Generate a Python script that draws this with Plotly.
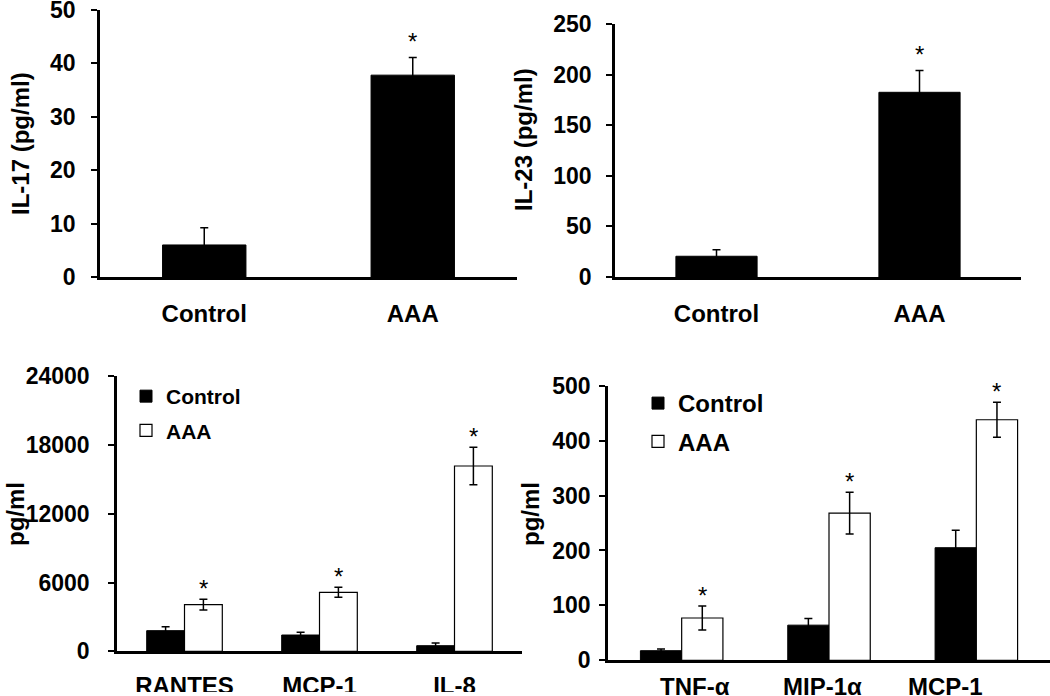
import plotly.graph_objects as go

FONT = "Liberation Sans, Arial, sans-serif"

# ---------------- data ----------------
# Panel A: IL-17
a_cats = ["Control", "AAA"]
a_vals = [6.0, 37.8]
a_err = [3.2, 3.3]
a_sig = [False, True]
a_ticks = [0, 10, 20, 30, 40, 50]

# Panel B: IL-23
b_cats = ["Control", "AAA"]
b_vals = [20.5, 182.5]
b_err = [6.5, 21.5]
b_sig = [False, True]
b_ticks = [0, 50, 100, 150, 200, 250]

# Panel C: chemokines (large)
c_cats = ["RANTES", "MCP-1", "IL-8"]
c_ctrl = [1800, 1420, 490]
c_ctrl_err = [350, 240, 230]
c_aaa = [4070, 5150, 16170]
c_aaa_err = [470, 440, 1630]
c_sig = [True, True, True]
c_ticks = [0, 6000, 12000, 18000, 24000]

# Panel D: cytokines
d_cats = ["TNF-α", "MIP-1α", "MCP-1"]
d_ctrl = [17.5, 64, 205]
d_ctrl_err = [3, 12, 32]
d_aaa = [77, 268, 438]
d_aaa_err = [22, 38, 32]
d_sig = [True, True, True]
d_ticks = [0, 100, 200, 300, 400, 500]

series_names = ["Control", "AAA"]

# ---------------- figure ----------------
W, H = 1050, 696
BARGAP = 0.44

def px_x(v):
    return v / W

def px_y(v):
    return (H - v) / H

fig = go.Figure()

err_style = dict(type="data", color="black", thickness=1.5, width=4, visible=True)

# A
fig.add_trace(go.Bar(x=a_cats, y=a_vals, error_y=dict(array=a_err, **err_style),
                     marker=dict(color="black", line=dict(color="black", width=1)),
                     width=0.4, offset=-0.2, showlegend=False,
                     xaxis="x", yaxis="y"))
# B
fig.add_trace(go.Bar(x=b_cats, y=b_vals, error_y=dict(array=b_err, **err_style),
                     marker=dict(color="black", line=dict(color="black", width=1)),
                     width=0.4, offset=-0.2, showlegend=False,
                     xaxis="x2", yaxis="y2"))
# C
fig.add_trace(go.Bar(x=c_cats, y=c_ctrl, name=series_names[0],
                     error_y=dict(array=c_ctrl_err, **err_style),
                     marker=dict(color="black", line=dict(color="black", width=1)),
                     xaxis="x3", yaxis="y3", legend="legend", legendgroup="c1"))
fig.add_trace(go.Bar(x=c_cats, y=c_aaa, name=series_names[1],
                     error_y=dict(array=c_aaa_err, **err_style),
                     marker=dict(color="white", line=dict(color="black", width=1.2)),
                     xaxis="x3", yaxis="y3", legend="legend", legendgroup="c2"))
# D
fig.add_trace(go.Bar(x=d_cats, y=d_ctrl, name=series_names[0],
                     error_y=dict(array=d_ctrl_err, **err_style),
                     marker=dict(color="black", line=dict(color="black", width=1)),
                     xaxis="x4", yaxis="y4", legend="legend2", legendgroup="d1"))
fig.add_trace(go.Bar(x=d_cats, y=d_aaa, name=series_names[1],
                     error_y=dict(array=d_aaa_err, **err_style),
                     marker=dict(color="white", line=dict(color="black", width=1.2)),
                     xaxis="x4", yaxis="y4", legend="legend2", legendgroup="d2"))

tickfont = dict(family=FONT, size=23, color="black", weight="bold")

def xax(domain, anchor, showlabels=True, standoff=0):
    return dict(domain=domain, anchor=anchor, type="category", automargin=False,
                showline=True, linecolor="black", linewidth=2.5,
                ticks="", showgrid=False, zeroline=False, ticklabeloverflow="allow",
                showticklabels=showlabels, tickfont=dict(family=FONT, size=24, color="black", weight="bold"),
                ticklabelstandoff=standoff, fixedrange=True)

def yax(domain, anchor, rng, tickvals, standoff):
    return dict(domain=domain, anchor=anchor, range=rng, tickvals=tickvals, automargin=False,
                tickformat="d", ticklabeloverflow="allow",
                showline=True, linecolor="black", linewidth=2.5,
                ticks="outside", ticklen=6, tickwidth=2, tickcolor="black",
                showgrid=False, zeroline=False, tickfont=tickfont,
                ticklabelstandoff=standoff, fixedrange=True)

fig.update_layout(
    width=W, height=H,
    margin=dict(l=0, r=0, t=0, b=0, autoexpand=False),
    paper_bgcolor="white", plot_bgcolor="white",
    barmode="group", bargap=BARGAP, bargroupgap=0,
    font=dict(family=FONT, color="black"),
    xaxis=xax([px_x(100), px_x(517)], "y", standoff=13),
    yaxis=yax([px_y(277), px_y(10)], "x", [0, 50], a_ticks, 11),
    xaxis2=xax([px_x(615), px_x(1021)], "y2", standoff=13),
    yaxis2=yax([px_y(277), px_y(24)], "x2", [0, 250], b_ticks, 10),
    xaxis3=xax([px_x(117), px_x(522)], "y3", standoff=11),
    yaxis3=yax([px_y(651.3), px_y(376.3)], "x3", [0, 24000], c_ticks, 14),
    xaxis4=xax([px_x(608), px_x(1050)], "y4", showlabels=False),
    yaxis4=yax([px_y(660.3), px_y(385.7)], "x4", [0, 500], d_ticks, 4),
    legend=dict(x=px_x(126), y=px_y(376), xanchor="left", yanchor="top",
                bgcolor="rgba(0,0,0,0)", tracegroupgap=4,
                font=dict(family=FONT, size=21, color="black", weight="bold")),
    legend2=dict(x=px_x(638), y=px_y(381), xanchor="left", yanchor="top",
                 bgcolor="rgba(0,0,0,0)", tracegroupgap=4,
                 font=dict(family=FONT, size=24, color="black", weight="bold")),
)

annotations = []

# y-axis titles
titles = [("IL-17 (pg/ml)", 21, 144), ("IL-23 (pg/ml)", 523, 140),
          ("pg/ml", 15, 514), ("pg/ml", 530, 514)]
for txt, xc, yc in titles:
    annotations.append(dict(text=txt, xref="paper", yref="paper", x=px_x(xc), y=px_y(yc),
                            xanchor="center", yanchor="middle", textangle=-90, showarrow=False,
                            font=dict(family=FONT, size=24, color="black", weight="bold")))

star_font = dict(family="Liberation Sans, Arial", size=24, color="black")

# asterisks A, B (single bars)
for cats, vals, errs, sig, ax in [(a_cats, a_vals, a_err, a_sig, ""),
                                  (b_cats, b_vals, b_err, b_sig, "2")]:
    for i, c in enumerate(cats):
        if sig[i]:
            annotations.append(dict(text="*", xref="x" + ax, yref="y" + ax, x=i, y=vals[i] + errs[i],
                                    xanchor="center", yanchor="bottom", yshift=1,
                                    showarrow=False, font=star_font))

# asterisks C, D (AAA bar of each group)
half = (1 - BARGAP) / 4
for cats, vals, errs, sig, ax in [(c_cats, c_aaa, c_aaa_err, c_sig, "3"),
                                  (d_cats, d_aaa, d_aaa_err, d_sig, "4")]:
    for i, c in enumerate(cats):
        if sig[i]:
            annotations.append(dict(text="*", xref="x" + ax, yref="y" + ax, x=i + half,
                                    y=vals[i] + errs[i], xanchor="center", yanchor="bottom",
                                    yshift=-5, showarrow=False, font=star_font))

# panel D category labels
d_label_shift = [13, -7, -31]
for i, c in enumerate(d_cats):
    annotations.append(dict(text=c, xref="x4", yref="y4", x=i, y=0, xanchor="center",
                            yanchor="top", yshift=-11, xshift=d_label_shift[i], showarrow=False,
                            font=dict(family=FONT, size=24, color="black", weight="bold")))

fig.update_layout(annotations=annotations)

# white band hiding the bottom of panel C labels (cropped in the original)
fig.add_shape(type="rect", xref="paper", yref="paper", x0=px_x(60), x1=px_x(540),
              y0=0, y1=px_y(692), fillcolor="white", line=dict(width=0), layer="above")

fig.write_html("out.html", config={"displayModeBar": False},
               post_script="document.body.style.margin='0px';")
